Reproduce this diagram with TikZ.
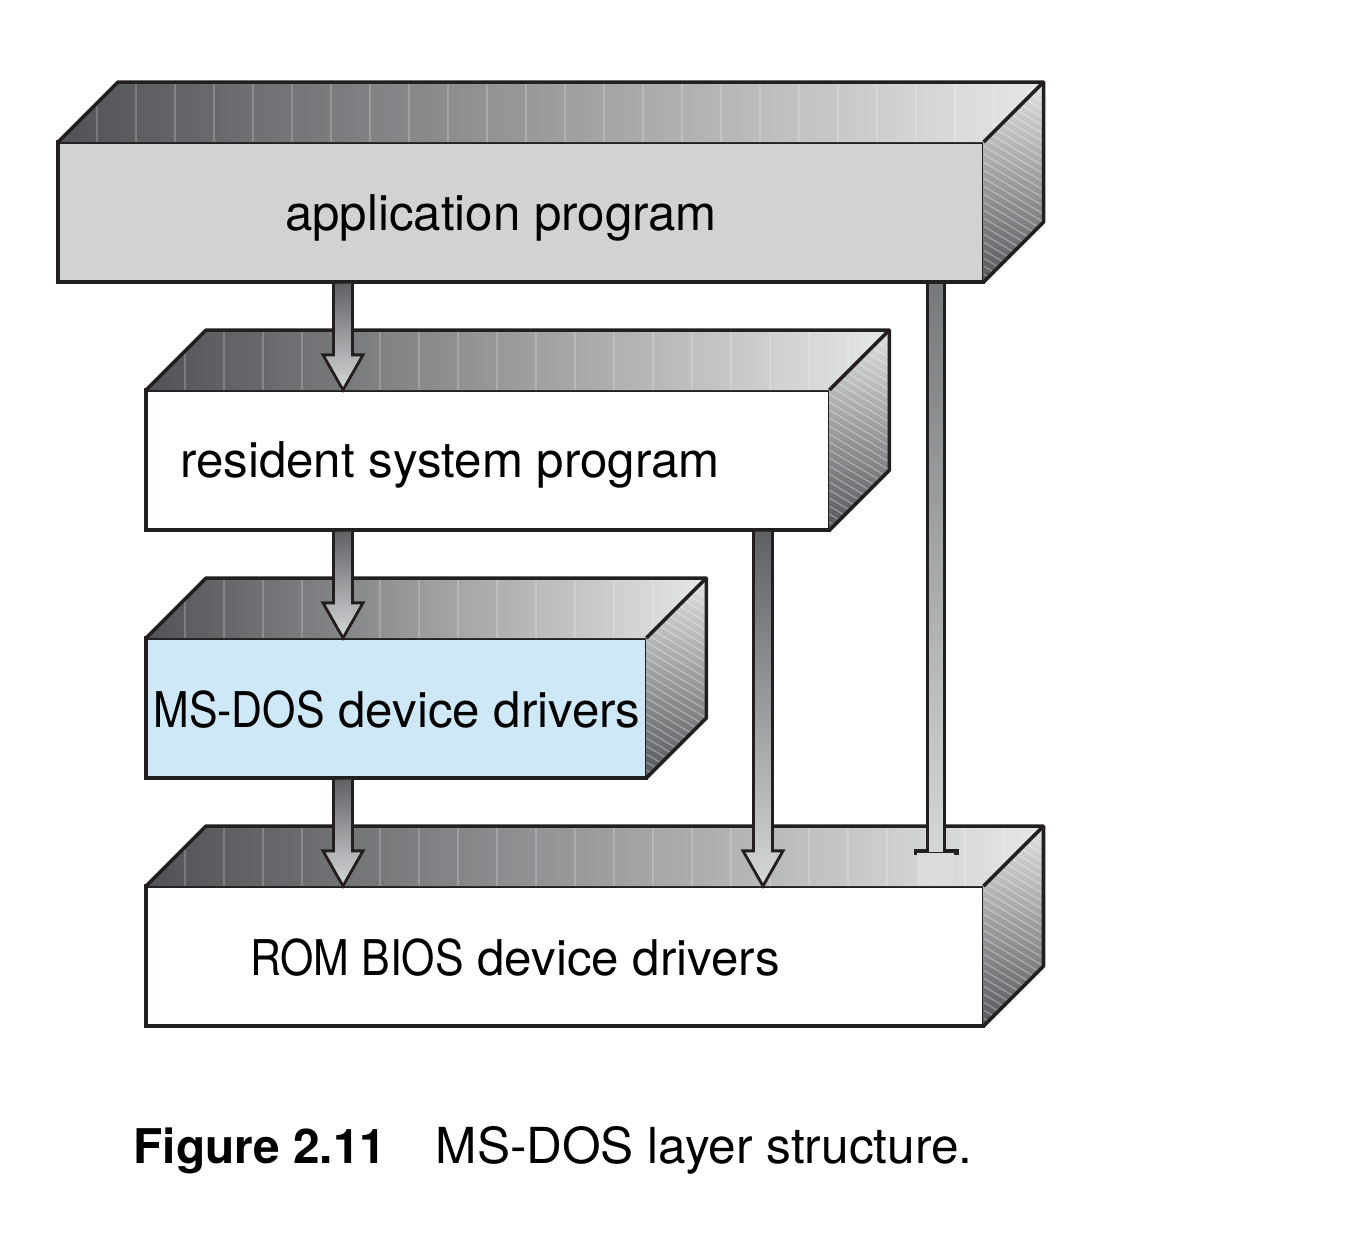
\documentclass[tikz,border=0pt]{standalone}
\usepackage{fontspec}
\setmainfont{TeX Gyre Heros}
\usetikzlibrary{calc}

\definecolor{edge}{HTML}{231F20}
\definecolor{appgray}{HTML}{D1D2D4}
\definecolor{dosblue}{HTML}{CFE8F8}
\definecolor{topdark}{HTML}{505255}
\definecolor{toplight}{HTML}{E6E7E8}
\definecolor{sidelight}{HTML}{E0E1E2}
\definecolor{sidedark}{HTML}{55575A}
\definecolor{arrowdark}{HTML}{5F6063}
\definecolor{arrowlight}{HTML}{D6D7D9}

% narrower capitals, as in the figure
\newcommand{\capsw}[1]{\scalebox{.87}[1]{#1}}

% top and right faces of a layer box
\newcommand{\layerdepth}[1]{%
  \begin{scope}
    \clip (#1.north west) -- ++(60,-60) -- ($(#1.north east)+(60,-60)$) -- (#1.north east) -- cycle;
    \shade[left color=topdark, right color=toplight] ($(#1.north west)+(0,-60)$) rectangle ($(#1.north east)+(60,0)$);
    \foreach \k in {1,...,26}
      \draw[white, opacity=.2, line width=.5pt] ($(#1.north west)+(\k*39,0)$) -- ++(0,-60);
  \end{scope}
  \begin{scope}
    \clip (#1.north east) -- ++(60,-60) -- ($(#1.south east)+(60,-60)$) -- (#1.south east) -- cycle;
    \shade[top color=sidelight, bottom color=sidedark] ($(#1.north east)+(0,-60)$) rectangle ($(#1.south east)+(60,0)$);
    \foreach \k in {-8,...,28}
      \draw[white, opacity=.3, line width=.4pt] ($(#1.north east)+(0,\k*8-60)$) -- ++(60,36);
  \end{scope}
  \draw[face] (#1.north west) -- ++(60,-60) -- ($(#1.north east)+(60,-60)$) -- ($(#1.south east)+(60,-60)$) -- (#1.south east);
  \draw[face] (#1.north east) -- ++(60,-60);
}

% fat arrow from #1 down to #2
\newcommand{\fatarrow}[2]{%
  \shade[fatarrow] ([xshift=-2.7pt]#1) -- ([xshift=-2.7pt,yshift=10pt]#2) -- ([xshift=-5.7pt,yshift=10pt]#2) -- (#2)
    -- ([xshift=5.7pt,yshift=10pt]#2) -- ([xshift=2.7pt,yshift=10pt]#2) -- ([xshift=2.7pt]#1) -- cycle;
}

\begin{document}
\begin{tikzpicture}[x=0.01cm,y=-0.01cm,
  layer/.style={draw=edge, line width=1pt, inner sep=0pt, outer sep=0pt, anchor=north west, minimum height=1.4cm},
  face/.style={draw=edge, line width=1pt, line join=round},
  label/.style={font=\fontsize{14}{17}\selectfont, anchor=base, inner sep=0pt},
  caption/.style={font=\fontsize{13.6}{16}\selectfont, anchor=base west, inner sep=0pt},
  fatarrow/.style={top color=arrowdark, bottom color=arrowlight, draw=edge, line width=.8pt, line join=miter}]
\useasboundingbox (0,0) rectangle (1364,1256);

% layers
\node[layer, fill=appgray, minimum width=9.25cm] (app) at (58,142) {};
\layerdepth{app}
\node[layer, fill=white, minimum width=6.83cm] (res) at (146,390) {};
\layerdepth{res}
\node[layer, fill=dosblue, minimum width=5.0cm] (dos) at (146,638) {};
\layerdepth{dos}
\node[layer, fill=white, minimum width=8.37cm] (rom) at (146,886) {};
\layerdepth{rom}

\node[label] (apptext) at (501,230) {application program};
\node[label] (restext) at (450,477) {resident system program};
\node[label] (dostext) at (397,727) {\capsw{MS-DOS} device drivers};
\node[label] (romtext) at (515,975) {\capsw{ROM BIOS} device drivers};

% arrows
\coordinate (colA) at (343,0);
\coordinate (colB) at (763,0);
\coordinate (colC) at (936,0);
\coordinate (a1) at (app.south -| colA);
\coordinate (b1) at (res.north -| colA);
\coordinate (a2) at (res.south -| colA);
\coordinate (b2) at (dos.north -| colA);
\coordinate (a3) at (dos.south -| colA);
\coordinate (b3) at (rom.north -| colA);
\coordinate (a4) at (res.south -| colB);
\coordinate (b4) at (rom.north -| colB);
\coordinate (a5) at (app.south -| colC);
\coordinate (b5) at (rom.north -| colC);
\fatarrow{a1}{b1}
\fatarrow{a2}{b2}
\fatarrow{a3}{b3}
\fatarrow{a4}{b4}
\shade[fatarrow, top color=arrowdark!85!white] ([xshift=-2.5pt]a5) -- ([xshift=-2.5pt,yshift=10pt]b5) -- ([xshift=-6pt,yshift=10pt]b5)
  -- ([xshift=-6pt,yshift=9.3pt]b5) -- ([xshift=6pt,yshift=9.3pt]b5) -- ([xshift=6pt,yshift=10pt]b5)
  -- ([xshift=2.5pt,yshift=10pt]b5) -- ([xshift=2.5pt]a5) -- cycle;
\fill[toplight!95!black] ([xshift=-5.4pt,yshift=9.3pt]b5) rectangle ([xshift=5.1pt,yshift=.4pt]b5);

% caption
\node[caption] (fignum) at (133,1163) {\bfseries Figure 2.11};
\node[caption, font=\fontsize{14.1}{16}\selectfont] (figtext) at (435,1163) {MS-DOS layer structure.};
\end{tikzpicture}
\end{document}
